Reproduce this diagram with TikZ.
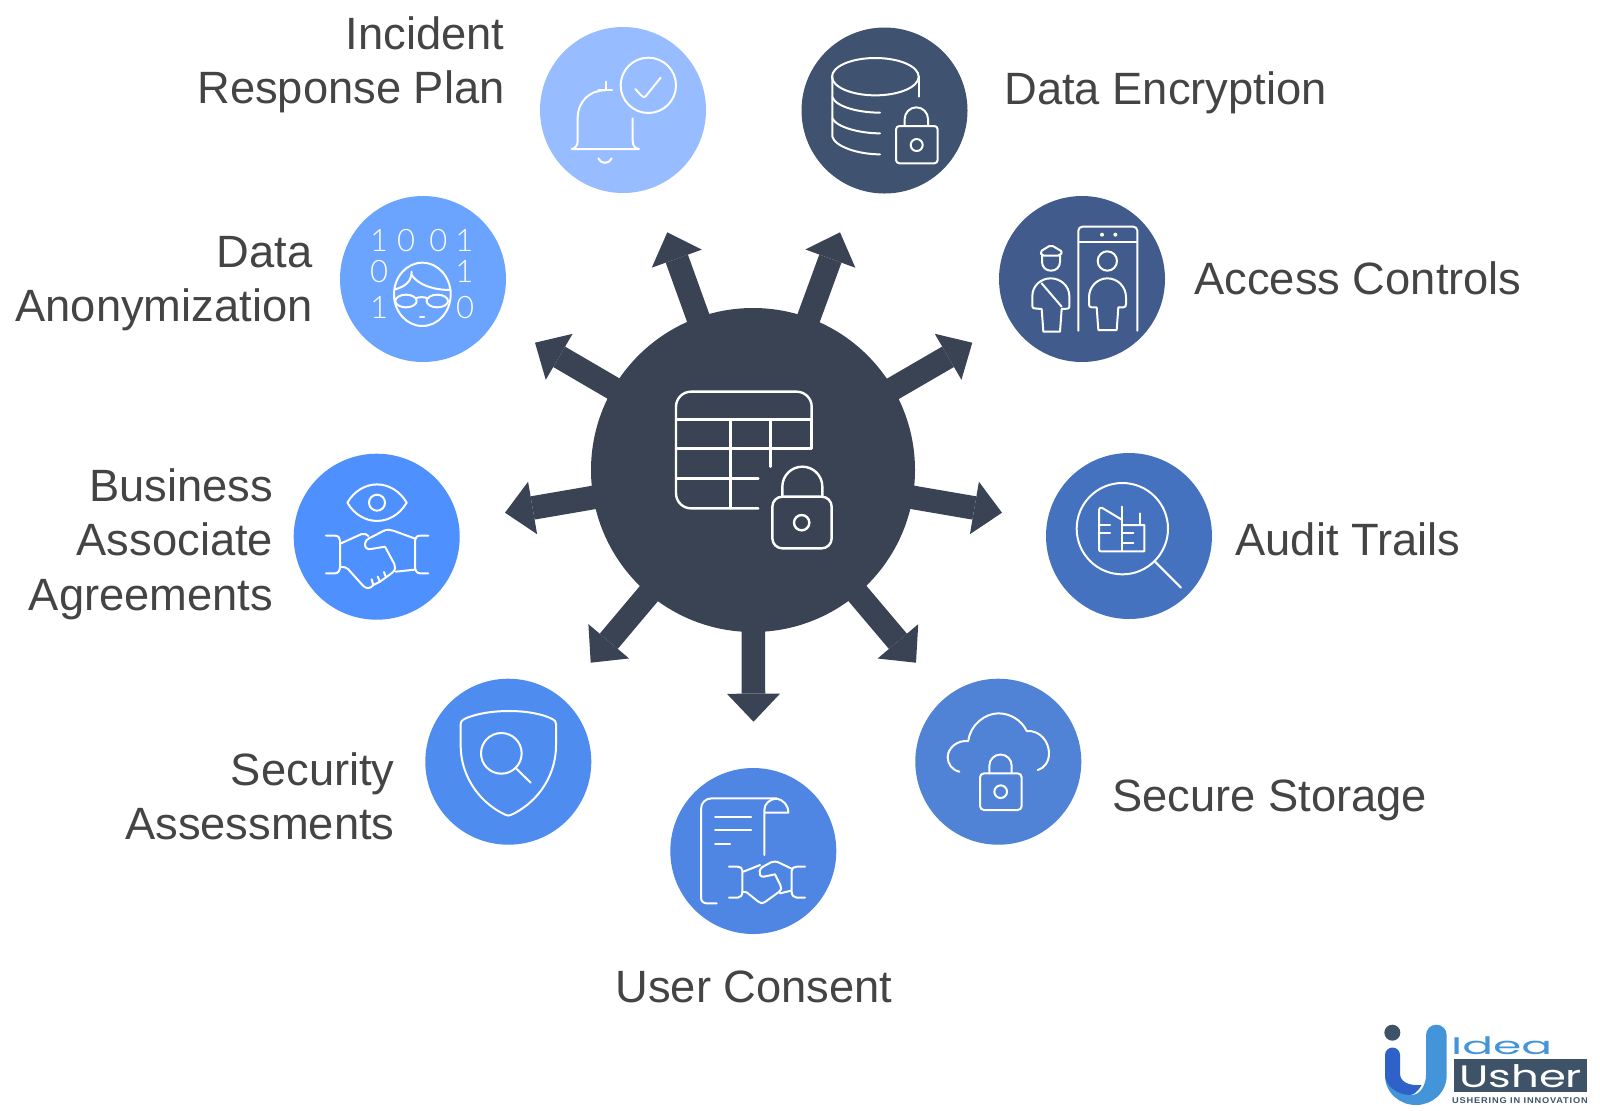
\documentclass[tikz,border=0pt]{standalone}
\usepackage{fontspec}
\usepackage{graphicx}
\setmainfont{Liberation Sans}
\newfontfamily\digitfont{Lato Light}
\newfontfamily\logofont{Poppins}
\usetikzlibrary{arrows.meta}
\definecolor{hubcol}{HTML}{3A4354}
\definecolor{labcol}{HTML}{444444}
\definecolor{cBell}{HTML}{97BCFF}
\definecolor{cDb}{HTML}{3F526F}
\definecolor{cAnon}{HTML}{6BA4FF}
\definecolor{cAccess}{HTML}{415C8C}
\definecolor{cBaa}{HTML}{4F90FF}
\definecolor{cAudit}{HTML}{4472BF}
\definecolor{cSec}{HTML}{4F8CF0}
\definecolor{cStore}{HTML}{5082D5}
\definecolor{cUser}{HTML}{4F86E3}
\definecolor{logoDark}{HTML}{3E5368}
\definecolor{logoLight}{HTML}{4494DA}
\definecolor{logoBlue}{HTML}{2F62C8}
\tikzset{
  disc/.style={circle,fill=#1,draw=none,minimum size=83pt,inner sep=0pt},
  lab/.style={font=\fontsize{22.65}{27.2}\selectfont,text=labcol,inner sep=0pt},
  labr/.style={lab,anchor=east,align=right},
  labl/.style={lab,anchor=west,align=left},
  burst/.style={draw=hubcol,line width=11.8pt,shorten <=-8pt,
    -{Triangle[length=14pt,width=26.6pt,line width=0pt]}},
  zoomat/.style={shift={(#1)},x=0.16667pt,y=-0.16667pt},
  icon/.style={draw=white,line width=1pt,line cap=round,line join=round},
  iconb/.style={draw=white,line width=1.2pt,line cap=round,line join=round},
  digit/.style={font=\digitfont\fontsize{15.5}{15.5}\selectfont,text=white,inner sep=0pt},
}
\begin{document}
\begin{tikzpicture}[x=0.5pt,y=-0.5pt]
\useasboundingbox (0,0) rectangle (1600,1110);

% hub and arrows
\node[circle,fill=hubcol,minimum size=162pt,inner sep=0pt] (hub) at (753,470) {};
\coordinate (t1) at (667.3,232.3);
\coordinate (t2) at (840,232.3);
\coordinate (t3) at (972.3,342.7);
\coordinate (t4) at (1002,512.7);
\coordinate (t5) at (916,662.7);
\coordinate (t6) at (753.5,721.7);
\coordinate (t7) at (590.7,662.7);
\coordinate (t8) at (505,512.7);
\coordinate (t9) at (535,342.7);
\foreach \t in {t1,t2,t3,t4,t5,t6,t7,t8,t9} \draw[burst] (hub) -- (\t);

% discs
\node[disc=cBell] (bell) at (623,110) {};
\node[disc=cDb] (db) at (884.5,110.5) {};
\node[disc=cAnon] (anon) at (423,279) {};
\node[disc=cAccess] (access) at (1082,279) {};
\node[disc=cBaa] (baa) at (376.7,536.7) {};
\node[disc=cAudit] (audit) at (1129,536) {};
\node[disc=cSec] (sec) at (508.3,761.7) {};
\node[disc=cStore] (store) at (998.3,761.7) {};
\node[disc=cUser] (user) at (753.3,851) {};

% labels
\node[labr] (lIncident) at (505,65) {Incident\\Response Plan};
\node[labl] (lEnc) at (1004,93) {Data Encryption};
\node[labr] (lAnon) at (313,283.5) {Data\\Anonymization};
\node[labl] (lAccess) at (1194,278) {Access Controls};
\node[labr] (lBaa) at (273.5,544) {Business\\Associate\\Agreements};
\node[labl] (lAudit) at (1235,539) {Audit Trails};
\node[labr] (lSec) at (395,796) {Security\\Assessments};
\node[labl] (lStore) at (1112,800) {Secure Storage};
\node[lab] (lUser) at (754,987) {User Consent};

% hub icon
\begin{scope}[zoomat={640,370}]
\draw[iconb,rounded corners=7.5pt] (355,415) -- (108,415) -- (108,65) -- (515,65) -- (515,150);
\draw[iconb] (515,148) -- (515,235) -- (108,235);
\draw[iconb] (108,148) -- (515,148);
\draw[iconb] (272,148) -- (272,415);
\draw[iconb] (391,148) -- (391,290);
\draw[iconb] (108,325) -- (355,325);
\draw[iconb,rounded corners=5pt] (397,380) rectangle (575,535);
\draw[iconb] (427,378) -- (427,350) arc[start angle=180,end angle=360,radius=60] -- (547,378);
\draw[iconb] (485,458) circle[radius=23];
\end{scope}

% bell and database icons
\begin{scope}[zoomat={530,20}]
\draw[icon] (355,196) circle[radius=83];
\draw[icon] (316,207) .. controls (330,222) and (338,235) .. (346,230) -- (392,173);
\draw[icon] (227,185) -- (227,210);
\draw[icon] (205,211) -- (246,211);
\draw[icon] (225,211) .. controls (178,211) and (143,245) .. (143,295) -- (143,362) .. controls (143,378) and (135,385) .. (125,387) -- (327,387) .. controls (315,385) and (308,378) .. (308,362) -- (308,295);
\draw[icon] (205,415) .. controls (212,433) and (238,433) .. (245,415);
% database
\draw[icon] (1036,170) ellipse[x radius=130,y radius=56];
\draw[icon] (907,170) -- (907,350) .. controls (915,380) and (985,403) .. (1050,403);
\draw[icon] (1166,170) -- (1166,230);
\draw[icon] (907,232) .. controls (920,262) and (990,278) .. (1050,278);
\draw[icon] (907,295) .. controls (920,322) and (990,340) .. (1050,340);
\draw[icon,rounded corners=1.7pt] (1098,318) rectangle (1223,430);
\draw[icon] (1124,318) -- (1124,297) arc[start angle=180,end angle=360,radius=35] -- (1194,318);
\draw[icon] (1160,375) circle[radius=18];
\end{scope}

% anonymization icon
\begin{scope}[zoomat={330,190}]
\node[digit] (d1) at (147,152) {1};
\node[digit] (d2) at (228,152) {0};
\node[digit] (d3) at (325,152) {0};
\node[digit] (d4) at (403,152) {1};
\node[digit] (d5) at (147,245) {0};
\node[digit] (d6) at (403,245) {1};
\node[digit] (d7) at (147,352) {1};
\node[digit] (d8) at (405,352) {0};
\draw[icon] (277,313) ellipse[x radius=85,y radius=95];
\draw[icon] (195,298) .. controls (225,290) and (245,275) .. (245,245);
\draw[icon] (245,255) .. controls (265,285) and (310,300) .. (362,300);
\draw[icon] (228,333) ellipse[x radius=32,y radius=19];
\draw[icon] (322,333) ellipse[x radius=32,y radius=19];
\draw[icon] (258,325) .. controls (268,320) and (282,320) .. (292,325);
\draw[icon] (270,382) -- (282,382);
\end{scope}

% access controls icon
\begin{scope}[zoomat={990,190}]
\draw[icon,rounded corners=2pt] (265,422) -- (265,110) -- (442,110) -- (442,422);
\draw[icon] (265,155) -- (442,155);
\fill[white] (336,134) circle[radius=6] (376,134) circle[radius=6];
\draw[icon] (352,213) circle[radius=29];
\draw[icon] (320,352) -- (305,352) .. controls (299,352) and (297,348) .. (297,343) -- (297,322) .. controls (297,290) and (322,265) .. (352,265) .. controls (383,265) and (408,290) .. (408,322) -- (408,343) .. controls (408,348) and (405,352) .. (400,352) -- (385,352) -- (380,420) -- (325,420) -- cycle;
\draw[icon,rounded corners=1pt] (150,185) -- (183,165) -- (217,185) -- (210,197) -- (156,197) -- cycle;
\draw[icon] (156,197) -- (156,215) .. controls (156,232) and (168,242) .. (183,242) .. controls (198,242) and (210,232) .. (210,215) -- (210,197);
\draw[icon] (155,357) -- (133,355) .. controls (129,355) and (127,352) .. (127,348) -- (127,318) .. controls (127,288) and (152,265) .. (182,265) .. controls (212,265) and (238,288) .. (238,318) -- (238,350) .. controls (238,354) and (235,356) .. (232,356) -- (215,357) -- (210,425) -- (160,425) -- cycle;
\draw[icon] (155,280) -- (215,350);
\end{scope}

% business associate icon
\begin{scope}[zoomat={285,450}]
\draw[icon] (187,158) .. controls (230,85) and (322,85) .. (365,158) .. controls (322,231) and (230,231) .. (187,158) -- cycle;
\draw[icon] (276,158) circle[radius=24];
\draw[icon] (123,257) -- (150,257) .. controls (160,257) and (165,264) .. (165,272) -- (165,350) .. controls (165,360) and (160,370) .. (150,370) -- (123,370);
\draw[icon] (430,257) -- (405,257) .. controls (395,257) and (390,264) .. (390,272) -- (390,350) .. controls (390,360) and (395,370) .. (405,370) -- (430,370);
\draw[icon] (168,280) -- (230,252) .. controls (238,250) and (245,252) .. (250,258);
\draw[icon] (165,350) -- (180,352) .. controls (188,354) and (192,360) .. (197,366) -- (235,408) .. controls (245,418) and (258,415) .. (265,405) -- (285,395) -- (303,382) -- (322,368) .. controls (332,360) and (332,350) .. (328,342) -- (300,290) -- (258,297) .. controls (245,300) and (238,290) .. (240,280) .. controls (242,272) and (246,268) .. (252,265) -- (295,243) .. controls (305,238) and (315,238) .. (325,242) -- (388,265);
\draw[icon] (332,365) -- (388,359);
\draw[icon] (265,405) -- (260,388);
\draw[icon] (285,395) -- (278,380);
\draw[icon] (303,382) -- (297,366);
\end{scope}

% audit icon
\begin{scope}[zoomat={1035,450}]
\draw[icon] (262,236) circle[radius=137];
\draw[icon] (360,335) -- (438,413);
\draw[icon] (262,210) -- (202,174) .. controls (196,171) and (192,174) .. (192,180) -- (192,298) .. controls (192,302) and (194,304) .. (198,304) -- (328,304) -- (328,225) -- (262,225);
\draw[icon] (262,170) -- (262,304);
\draw[icon] (315,190) -- (315,225);
\draw[icon] (192,225) -- (225,225);
\draw[icon] (192,250) -- (225,250);
\draw[icon] (262,250) -- (295,250);
\draw[icon] (262,278) -- (295,278);
\end{scope}

% security icon
\begin{scope}[zoomat={420,670}]
\draw[icon] (133,147) .. controls (200,115) and (335,115) .. (397,147) .. controls (404,150) and (408,155) .. (408,162) -- (408,225) .. controls (408,330) and (340,405) .. (272,435) .. controls (268,437) and (262,437) .. (258,435) .. controls (190,405) and (122,330) .. (122,225) -- (122,162) .. controls (122,155) and (126,150) .. (133,147) -- cycle;
\draw[icon] (244,250) circle[radius=61];
\draw[icon] (290,297) -- (332,338);
\end{scope}

% storage icon
\begin{scope}[zoomat={910,670}]
\draw[icon] (148,305) .. controls (125,300) and (113,280) .. (113,262) .. controls (113,235) and (140,210) .. (175,213) .. controls (180,165) and (225,130) .. (265,130) .. controls (300,130) and (335,150) .. (350,183) .. controls (390,180) and (417,215) .. (417,250) .. controls (417,275) and (403,295) .. (383,300);
\draw[icon,rounded corners=2pt] (210,310) rectangle (335,420);
\draw[icon] (238,310) -- (238,287) arc[start angle=180,end angle=360,radius=33.5] -- (305,310);
\draw[icon] (272,365) circle[radius=19];
\end{scope}

% user consent icon
\begin{scope}[zoomat={665,760}]
\draw[icon] (155,430) -- (125,430) .. controls (115,430) and (108,423) .. (108,413) -- (108,147) .. controls (108,128) and (122,115) .. (140,115) -- (335,115);
\draw[icon] (298,285) -- (298,150) .. controls (298,130) and (315,118) .. (332,116) .. controls (355,118) and (370,135) .. (370,158) -- (298,158);
\draw[icon] (150,170) -- (258,170);
\draw[icon] (150,210) -- (258,210);
\draw[icon] (150,252) -- (195,252);
\draw[icon] (192,320) -- (218,320) .. controls (227,320) and (232,325) .. (232,332) -- (232,395) .. controls (232,405) and (227,413) .. (218,413) -- (192,413);
\draw[icon] (420,320) -- (395,320) .. controls (386,320) and (380,325) .. (380,332) -- (380,395) .. controls (380,405) and (386,413) .. (395,413) -- (420,413);
\draw[icon] (235,335) -- (285,315);
\draw[icon] (232,395) -- (245,397) -- (280,425) .. controls (286,431) and (294,431) .. (300,426) -- (340,397) .. controls (350,390) and (350,382) .. (346,375) -- (330,343) -- (296,350) .. controls (286,351) and (282,342) .. (284,334) .. controls (285,328) and (288,324) .. (292,321) -- (318,307) .. controls (325,304) and (332,304) .. (338,306) -- (378,325);
\draw[icon] (345,400) -- (378,392);
\end{scope}

% logo
\begin{scope}[zoomat={1340,1000}]
\fill[logoDark] (157,98) circle[radius=24];
\fill[logoLight] (258,105) arc[start angle=180,end angle=360,radius=31] -- (320,225) .. controls (320,280) and (275,315) .. (228,315) .. controls (180,315) and (135,280) .. (135,225) .. controls (150,265) and (185,285) .. (215,285) .. controls (240,285) and (258,255) .. (258,225) -- cycle;
\fill[logoBlue] (135,165) arc[start angle=180,end angle=360,radius=22.5] -- (180,220) .. controls (180,245) and (205,258) .. (245,255) .. controls (235,272) and (222,285) .. (210,285) .. controls (170,285) and (135,255) .. (135,225) -- cycle;
\fill[logoDark] (341,178) rectangle (742,276);
\node[inner sep=0pt,text=logoLight,font=\logofont\fontsize{12}{12}\selectfont] (logoIdea) at (485,136) {\scalebox{1.9}[1]{Idea}};
\node[inner sep=0pt,text=white,font=\logofont\fontsize{15.5}{15.5}\selectfont] (logoUsher) at (542,228) {\scalebox{1.4}[1]{Usher}};
\node[inner sep=0pt,text=logoDark,font=\addfontfeature{LetterSpace=9}\bfseries\fontsize{4.2}{4.2}\selectfont] (logoTag) at (540,303) {\scalebox{1.1}[1]{USHERING IN INNOVATION}};
\end{scope}
\end{tikzpicture}
\end{document}
